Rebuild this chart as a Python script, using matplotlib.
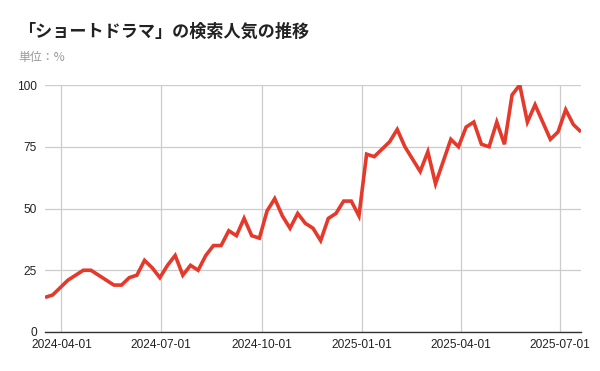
import matplotlib

matplotlib.use("Agg")
import matplotlib.pyplot as plt
import matplotlib.dates as mdates
import numpy as np
import pandas as pd

# weekly search interest
start_date = "2024-03-17"
interest = [14, 15, 18, 21, 23, 25, 25, 23, 21, 19, 19, 22, 23, 29, 26, 22, 27, 31, 23, 27,
            25, 31, 35, 35, 41, 39, 46, 39, 38, 49, 54, 47, 42, 48, 44, 42, 37, 46, 48, 53,
            53, 47, 72, 71, 74, 77, 82, 75, 70, 65, 73, 60, 69, 78, 75, 83, 85, 76, 75, 85,
            76, 96, 100, 85, 92, 85, 78, 81, 90, 84, 81]
dates = pd.date_range(start_date, periods=len(interest), freq="7D")
y_ticks = [0, 25, 50, 75, 100]
x_ticks = ["2024-04-01", "2024-07-01", "2024-10-01", "2025-01-01", "2025-04-01", "2025-07-01"]

title = "「ショートドラマ」の検索人気の推移"
subtitle = "単位：%"

plt.rcParams["font.family"] = ["Liberation Sans", "Noto Sans CJK JP", "DejaVu Sans"]

fig = plt.figure(figsize=(6, 3.71), dpi=100)
ax = fig.add_axes([45 / 600, 39 / 371, 536 / 600, 247 / 371])

ax.plot(dates, interest, color="#e53a2b", linewidth=2.6, solid_joinstyle="miter",
        solid_capstyle="butt", zorder=3)

ax.set_ylim(0, 100)
ax.set_xlim(dates[0], dates[-1])
ax.set_yticks(y_ticks)
ax.set_xticks(pd.to_datetime(x_ticks))
ax.xaxis.set_major_formatter(mdates.DateFormatter("%Y-%m-%d"))
ax.grid(True, color="#cccccc", linewidth=0.9)
ax.set_axisbelow(True)
ax.tick_params(axis="both", length=0, labelsize=8.6, colors="#222222")
ax.tick_params(axis="x", pad=5)
ax.tick_params(axis="y", pad=6)
for side in ["top", "right", "left"]:
    ax.spines[side].set_visible(False)
ax.spines["bottom"].set_color("#333333")
ax.spines["bottom"].set_linewidth(1.0)

fig.text(18 / 600, 1 - 32 / 371, title, fontsize=12.3, family=["Noto Sans CJK JP"],
         fontweight="bold", color="#222222", va="center", ha="left")
fig.text(18 / 600, 1 - 57 / 371, subtitle, fontsize=8.6, family=["Noto Sans CJK JP"],
         color="#999999", va="center", ha="left")

fig.savefig("out.png", dpi=100)
plt.close(fig)
